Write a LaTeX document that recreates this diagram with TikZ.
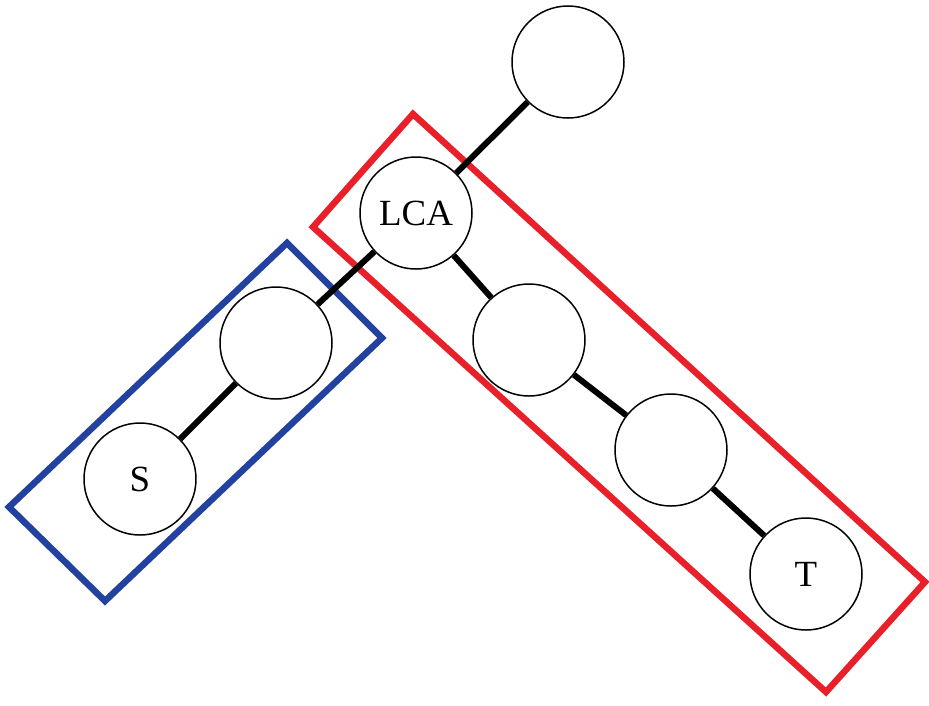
\documentclass[tikz,border=0pt]{standalone}
\usepackage{fontspec}
\setmainfont{Liberation Serif}
\usepackage{tikz}
\usetikzlibrary{positioning}
\definecolor{pathred}{HTML}{E8202A}
\definecolor{pathblue}{HTML}{2342A0}
\tikzset{treenode/.style={circle,draw=black,line width=.85pt,fill=white,minimum size=2.24cm,inner sep=0pt,font=\fontsize{21}{24}\selectfont},treeedge/.style={draw=black,line width=.12cm},redbox/.style={draw=pathred,line width=.13cm},bluebox/.style={draw=pathblue,line width=.13cm}}

\begin{document}
\begin{tikzpicture}
\useasboundingbox (0,0) rectangle (18.58,-14.10);
\draw[bluebox] (0.18,-10.14)--(2.10,-12.02)--(7.64,-6.76)--(5.74,-4.86)--cycle;
\draw[redbox] (6.26,-4.54)--(8.26,-2.28)--(18.50,-11.64)--(16.52,-13.84)--cycle;
\node[treenode] (root) at (11.36,-1.24) {};
\node[treenode] (lca) at (8.32,-4.26) {LCA};
\node[treenode] (sup) at (5.52,-6.86) {};
\node[treenode] (src) at (2.80,-9.58) {S};
\node[treenode] (down1) at (10.58,-6.80) {};
\node[treenode] (down2) at (13.42,-9.00) {};
\node[treenode] (tgt) at (16.12,-11.48) {T};
\foreach \u/\v in {root/lca,lca/sup,sup/src,lca/down1,down1/down2,down2/tgt}{\draw[treeedge] (\u)--(\v);}
\end{tikzpicture}
\end{document}
